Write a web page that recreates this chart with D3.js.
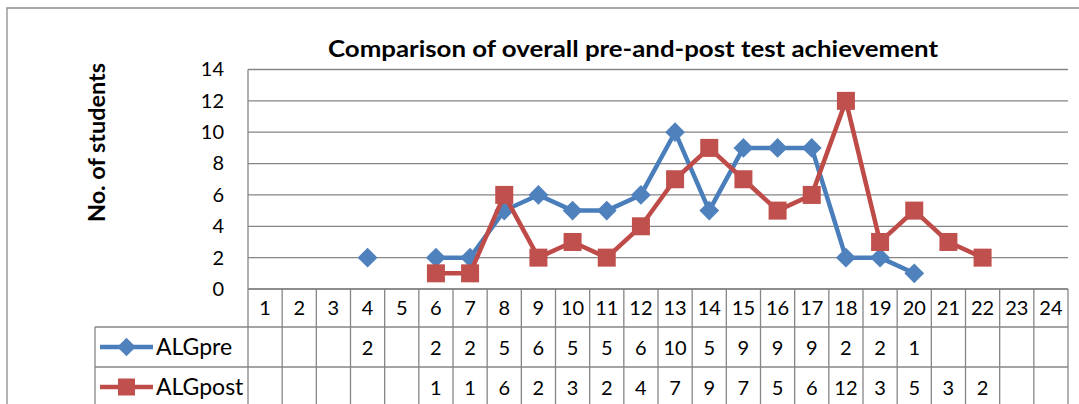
<!DOCTYPE html>
<html><head><meta charset="utf-8">
<script src="https://cdn.jsdelivr.net/npm/d3@7"></script>
<style>html,body{margin:0;padding:0;background:#fff;}svg{display:block;font-family:Lato,"Open Sans",sans-serif;}</style>
</head><body>
<svg id="c" width="1079" height="404"></svg>
<script>
const categories = ["1","2","3","4","5","6","7","8","9","10","11","12","13","14","15","16","17","18","19","20","21","22","23","24"];
const seriesNames = ["ALGpre","ALGpost"];
const algPre  = [null,null,null,2,null,2,2,5,6,5,5,6,10,5,9,9,9,2,2,1,null,null,null,null];
const algPost = [null,null,null,null,null,1,1,6,2,3,2,4,7,9,7,5,6,12,3,5,3,2,null,null];
const yTicks = [0,2,4,6,8,10,12,14];
const titleText = "Comparison of overall pre-and-post test achievement";
const yTitle = "No. of students";

const svg = d3.select("#c");
const L = 248, R = 1068, T = 69.5, B = 289;
const rowH = [38, 40, 40];
const legendLeft = 95;
const gridCol = "#868686";
const lineCols = ["#4A7EBB", "#BE4B48"];
const markCols = ["#4F81BD", "#C0504D"];

// outer chart border
svg.append("path").attr("d", `M7,404 V8 H1079`).attr("fill","none").attr("stroke","#8c8c8c").attr("stroke-width",1.3);

const x = d3.scaleBand().domain(categories).range([L, R]);
const y = d3.scaleLinear().domain([0, 14]).range([B, T]);

// gridlines
svg.append("g").selectAll("line").data(yTicks).join("line")
  .attr("x1", L).attr("x2", R).attr("y1", d => y(d)).attr("y2", d => y(d))
  .attr("stroke", gridCol).attr("stroke-width", 1.3);
svg.append("line").attr("x1", L).attr("x2", L).attr("y1", T).attr("y2", B).attr("stroke", gridCol).attr("stroke-width",1.3);

// y axis via d3.axisLeft
const yAxis = svg.append("g").attr("transform", `translate(${L},0)`)
  .call(d3.axisLeft(y).tickValues(yTicks).tickSize(0).tickPadding(24));
yAxis.select(".domain").remove();
yAxis.selectAll("text").attr("font-size", 20).attr("font-family","Lato").attr("fill","#000");

// titles
svg.append("text").attr("x", 633).attr("y", 56.5).attr("text-anchor","middle")
  .attr("font-size", 23).attr("font-weight","bold")
  .attr("textLength", 610).attr("lengthAdjust","spacingAndGlyphs").text(titleText);
svg.append("text").attr("transform", "translate(105,142.5) rotate(-90)").attr("text-anchor","middle")
  .attr("font-size", 23).attr("font-weight","bold")
  .attr("textLength", 159).attr("lengthAdjust","spacingAndGlyphs").text(yTitle);

// data table
const rowTop = [B, B + rowH[0], B + rowH[0] + rowH[1]];
const tableBottom = rowTop[2] + rowH[2];
const tg = svg.append("g").attr("stroke", gridCol).attr("stroke-width", 1.3);
tg.append("line").attr("x1", L).attr("x2", R).attr("y1", rowTop[0]).attr("y2", rowTop[0]);
tg.append("line").attr("x1", legendLeft).attr("x2", R).attr("y1", rowTop[1]).attr("y2", rowTop[1]);
tg.append("line").attr("x1", legendLeft).attr("x2", R).attr("y1", rowTop[2]).attr("y2", rowTop[2]);
tg.append("line").attr("x1", legendLeft).attr("x2", R).attr("y1", tableBottom).attr("y2", tableBottom);
const edges = categories.map(c => x(c)).concat([R]);
tg.selectAll(".v").data(edges).join("line").attr("class","v")
  .attr("x1", d => d).attr("x2", d => d).attr("y1", B).attr("y2", tableBottom);
tg.append("line").attr("x1", legendLeft).attr("x2", legendLeft).attr("y1", rowTop[1]).attr("y2", tableBottom);

const cx = c => x(c) + x.bandwidth() / 2;
svg.append("g").selectAll("text").data(categories).join("text")
  .attr("x", d => cx(d)).attr("y", rowTop[0] + 26).attr("text-anchor","middle").attr("font-size",20).text(d => d);
[algPre, algPost].forEach((vals, si) => {
  svg.append("g").selectAll("text").data(categories.filter((c,i)=>vals[i]!=null)).join("text")
    .attr("x", d => cx(d)).attr("y", rowTop[si+1] + 28).attr("text-anchor","middle").attr("font-size",20)
    .text(d => vals[categories.indexOf(d)]);
});

// legend keys in table
seriesNames.forEach((name, si) => {
  const yy = rowTop[si+1] + 20;
  svg.append("line").attr("x1", 100).attr("x2", 153).attr("y1", yy).attr("y2", yy)
    .attr("stroke", lineCols[si]).attr("stroke-width", 4.5);
  if (si === 0) {
    svg.append("path").attr("d", d3.symbol(d3.symbolDiamond2, 220)()).attr("transform", `translate(126.5,${yy})`).attr("fill", markCols[si]);
  } else {
    svg.append("rect").attr("x", 126.5-8.5).attr("y", yy-8.5).attr("width",17).attr("height",17).attr("fill", markCols[si]);
  }
  svg.append("text").attr("x", 156).attr("y", rowTop[si+1] + 28).attr("font-size", 23).text(name);
});

// series lines and markers
[algPre, algPost].forEach((vals, si) => {
  const pts = categories.map((c,i) => ({c, v: vals[i]}));
  const line = d3.line().defined(d => d.v != null).x(d => cx(d.c)).y(d => y(d.v));
  svg.append("path").datum(pts).attr("d", line).attr("fill","none")
    .attr("stroke", lineCols[si]).attr("stroke-width", 4.5).attr("stroke-linejoin","round");
  const defined = pts.filter(d => d.v != null);
  if (si === 0) {
    svg.append("g").selectAll("path").data(defined).join("path")
      .attr("d", d3.symbol(d3.symbolDiamond2, 250)())
      .attr("transform", d => `translate(${cx(d.c)},${y(d.v)})`).attr("fill", markCols[si]);
  } else {
    svg.append("g").selectAll("rect").data(defined).join("rect")
      .attr("x", d => cx(d.c) - 9).attr("y", d => y(d.v) - 9).attr("width", 18).attr("height", 18)
      .attr("fill", markCols[si]);
  }
});
</script>
</body></html>
